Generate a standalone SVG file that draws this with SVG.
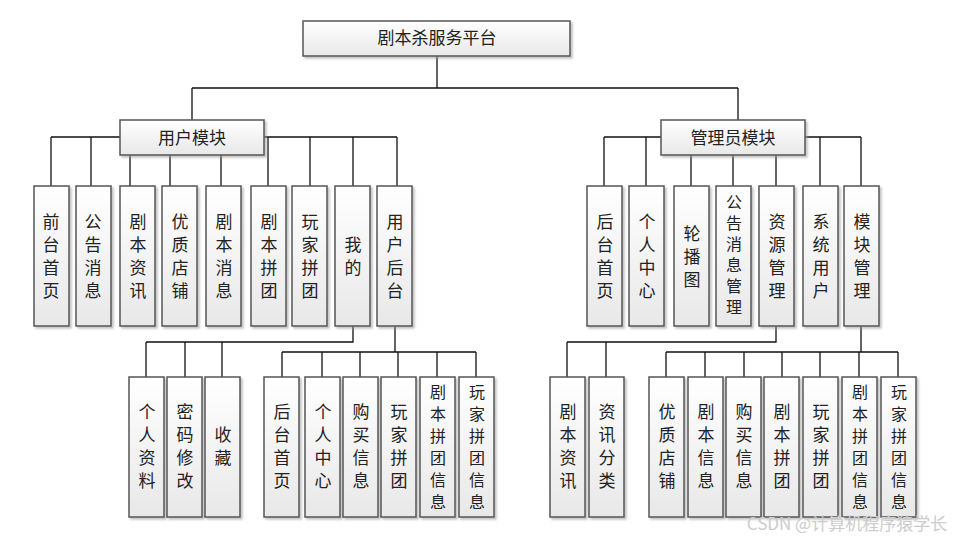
<svg xmlns="http://www.w3.org/2000/svg" width="963" height="541" viewBox="0 0 963 541">
<defs>
<linearGradient id="g" x1="0" y1="0" x2="0" y2="1"><stop offset="0" stop-color="#ffffff"/><stop offset="1" stop-color="#e8e8e8"/></linearGradient>
<filter id="sh" x="-20%" y="-20%" width="150%" height="150%"><feDropShadow dx="2" dy="2" stdDeviation="1" flood-color="#999" flood-opacity="0.6"/></filter>
<style>
rect{fill:url(#g);stroke:#555;stroke-width:1.5;filter:url(#sh)}
text{font-family:"Noto Sans CJK SC","Liberation Sans",sans-serif;font-size:17px;fill:#222;text-anchor:middle}
text.s{font-size:16px}
.c path{fill:none;stroke:#111;stroke-width:1.3}
</style>
</defs>
<rect width="963" height="541" style="fill:#fff;stroke:none;filter:none"/>
<g class="c">
<path d="M437 56V88M192 88H738M192 88V120M738 88V120"/>
<path d="M51 137H397M51 137V186M91 137V186M130 155V186M170 155V186M221 155V186M268 137V186M310 137V186M353 137V186M397 137V186"/>
<path d="M604 137H861M604 137V186M646 137V186M691 155V186M733 155V186M776 155V186M820 137V186M861 137V186"/>
<path d="M353 326V342H146M146 342V377M185 342V377M222 342V377"/>
<path d="M395 326V352M282 352H476M282 352V377M322 352V377M360 352V377M398 352V377M437 352V377M476 352V377"/>
<path d="M776 326V342H567M567 342V377M606 342V377"/>
<path d="M861 326V352M666 352H898M666 352V377M705 352V377M744 352V377M782 352V377M820 352V377M859 352V377M898 352V377"/>
</g>
<g id="root"><rect x="303" y="21" width="267" height="35"/><text x="437" y="44">剧本杀服务平台</text></g>
<g id="user"><rect x="120" y="120" width="144" height="35"/><text x="192" y="144">用户模块</text></g>
<g id="admin"><rect x="661" y="120" width="144" height="35"/><text x="733" y="144">管理员模块</text></g>

<g id="u1"><rect x="34" y="186" width="35" height="140"/><text><tspan x="51" y="228">前</tspan><tspan x="51" y="251">台</tspan><tspan x="51" y="274">首</tspan><tspan x="51" y="297">页</tspan></text></g>
<g id="u2"><rect x="76" y="186" width="35" height="140"/><text><tspan x="93" y="228">公</tspan><tspan x="93" y="251">告</tspan><tspan x="93" y="274">消</tspan><tspan x="93" y="297">息</tspan></text></g>
<g id="u3"><rect x="120" y="186" width="35" height="140"/><text><tspan x="138" y="228">剧</tspan><tspan x="138" y="251">本</tspan><tspan x="138" y="274">资</tspan><tspan x="138" y="297">讯</tspan></text></g>
<g id="u4"><rect x="162" y="186" width="35" height="140"/><text><tspan x="180" y="228">优</tspan><tspan x="180" y="251">质</tspan><tspan x="180" y="274">店</tspan><tspan x="180" y="297">铺</tspan></text></g>
<g id="u5"><rect x="206" y="186" width="35" height="140"/><text><tspan x="224" y="228">剧</tspan><tspan x="224" y="251">本</tspan><tspan x="224" y="274">消</tspan><tspan x="224" y="297">息</tspan></text></g>
<g id="u6"><rect x="251" y="186" width="35" height="140"/><text><tspan x="269" y="228">剧</tspan><tspan x="269" y="251">本</tspan><tspan x="269" y="274">拼</tspan><tspan x="269" y="297">团</tspan></text></g>
<g id="u7"><rect x="292" y="186" width="35" height="140"/><text><tspan x="310" y="228">玩</tspan><tspan x="310" y="251">家</tspan><tspan x="310" y="274">拼</tspan><tspan x="310" y="297">团</tspan></text></g>
<g id="u8"><rect x="335" y="186" width="35" height="140"/><text><tspan x="353" y="251">我</tspan><tspan x="353" y="274">的</tspan></text></g>
<g id="u9"><rect x="377" y="186" width="35" height="140"/><text><tspan x="395" y="228">用</tspan><tspan x="395" y="251">户</tspan><tspan x="395" y="274">后</tspan><tspan x="395" y="297">台</tspan></text></g>

<g id="a1"><rect x="587" y="186" width="35" height="140"/><text><tspan x="605" y="228">后</tspan><tspan x="605" y="251">台</tspan><tspan x="605" y="274">首</tspan><tspan x="605" y="297">页</tspan></text></g>
<g id="a2"><rect x="629" y="186" width="35" height="140"/><text><tspan x="647" y="228">个</tspan><tspan x="647" y="251">人</tspan><tspan x="647" y="274">中</tspan><tspan x="647" y="297">心</tspan></text></g>
<g id="a3"><rect x="674" y="186" width="35" height="140"/><text><tspan x="692" y="240">轮</tspan><tspan x="692" y="263">播</tspan><tspan x="692" y="286">图</tspan></text></g>
<g id="a4"><rect x="716" y="186" width="35" height="140"/><text class="s"><tspan x="734" y="208">公</tspan><tspan x="734" y="229">告</tspan><tspan x="734" y="250">消</tspan><tspan x="734" y="271">息</tspan><tspan x="734" y="292">管</tspan><tspan x="734" y="313">理</tspan></text></g>
<g id="a5"><rect x="759" y="186" width="35" height="140"/><text><tspan x="777" y="228">资</tspan><tspan x="777" y="251">源</tspan><tspan x="777" y="274">管</tspan><tspan x="777" y="297">理</tspan></text></g>
<g id="a6"><rect x="803" y="186" width="35" height="140"/><text><tspan x="821" y="228">系</tspan><tspan x="821" y="251">统</tspan><tspan x="821" y="274">用</tspan><tspan x="821" y="297">户</tspan></text></g>
<g id="a7"><rect x="844" y="186" width="35" height="140"/><text><tspan x="862" y="228">模</tspan><tspan x="862" y="251">块</tspan><tspan x="862" y="274">管</tspan><tspan x="862" y="297">理</tspan></text></g>

<g id="m1"><rect x="129" y="377" width="35" height="140"/><text><tspan x="147" y="418">个</tspan><tspan x="147" y="441">人</tspan><tspan x="147" y="464">资</tspan><tspan x="147" y="487">料</tspan></text></g>
<g id="m2"><rect x="167" y="377" width="35" height="140"/><text><tspan x="185" y="418">密</tspan><tspan x="185" y="441">码</tspan><tspan x="185" y="464">修</tspan><tspan x="185" y="487">改</tspan></text></g>
<g id="m3"><rect x="205" y="377" width="35" height="140"/><text><tspan x="223" y="441">收</tspan><tspan x="223" y="464">藏</tspan></text></g>

<g id="b1"><rect x="264" y="377" width="35" height="140"/><text><tspan x="282" y="418">后</tspan><tspan x="282" y="441">台</tspan><tspan x="282" y="464">首</tspan><tspan x="282" y="487">页</tspan></text></g>
<g id="b2"><rect x="305" y="377" width="35" height="140"/><text><tspan x="323" y="418">个</tspan><tspan x="323" y="441">人</tspan><tspan x="323" y="464">中</tspan><tspan x="323" y="487">心</tspan></text></g>
<g id="b3"><rect x="343" y="377" width="35" height="140"/><text><tspan x="361" y="418">购</tspan><tspan x="361" y="441">买</tspan><tspan x="361" y="464">信</tspan><tspan x="361" y="487">息</tspan></text></g>
<g id="b4"><rect x="381" y="377" width="35" height="140"/><text><tspan x="399" y="418">玩</tspan><tspan x="399" y="441">家</tspan><tspan x="399" y="464">拼</tspan><tspan x="399" y="487">团</tspan></text></g>
<g id="b5"><rect x="420" y="377" width="35" height="140"/><text class="s"><tspan x="438" y="398">剧</tspan><tspan x="438" y="420">本</tspan><tspan x="438" y="442">拼</tspan><tspan x="438" y="464">团</tspan><tspan x="438" y="486">信</tspan><tspan x="438" y="508">息</tspan></text></g>
<g id="b6"><rect x="459" y="377" width="35" height="140"/><text class="s"><tspan x="477" y="398">玩</tspan><tspan x="477" y="420">家</tspan><tspan x="477" y="442">拼</tspan><tspan x="477" y="464">团</tspan><tspan x="477" y="486">信</tspan><tspan x="477" y="508">息</tspan></text></g>

<g id="r1"><rect x="550" y="377" width="35" height="140"/><text><tspan x="568" y="418">剧</tspan><tspan x="568" y="441">本</tspan><tspan x="568" y="464">资</tspan><tspan x="568" y="487">讯</tspan></text></g>
<g id="r2"><rect x="589" y="377" width="35" height="140"/><text><tspan x="607" y="418">资</tspan><tspan x="607" y="441">讯</tspan><tspan x="607" y="464">分</tspan><tspan x="607" y="487">类</tspan></text></g>

<g id="k1"><rect x="649" y="377" width="35" height="140"/><text><tspan x="667" y="418">优</tspan><tspan x="667" y="441">质</tspan><tspan x="667" y="464">店</tspan><tspan x="667" y="487">铺</tspan></text></g>
<g id="k2"><rect x="688" y="377" width="35" height="140"/><text><tspan x="706" y="418">剧</tspan><tspan x="706" y="441">本</tspan><tspan x="706" y="464">信</tspan><tspan x="706" y="487">息</tspan></text></g>
<g id="k3"><rect x="726" y="377" width="35" height="140"/><text><tspan x="744" y="418">购</tspan><tspan x="744" y="441">买</tspan><tspan x="744" y="464">信</tspan><tspan x="744" y="487">息</tspan></text></g>
<g id="k4"><rect x="764" y="377" width="35" height="140"/><text><tspan x="782" y="418">剧</tspan><tspan x="782" y="441">本</tspan><tspan x="782" y="464">拼</tspan><tspan x="782" y="487">团</tspan></text></g>
<g id="k5"><rect x="803" y="377" width="35" height="140"/><text><tspan x="821" y="418">玩</tspan><tspan x="821" y="441">家</tspan><tspan x="821" y="464">拼</tspan><tspan x="821" y="487">团</tspan></text></g>
<g id="k6"><rect x="842" y="377" width="35" height="140"/><text class="s"><tspan x="860" y="398">剧</tspan><tspan x="860" y="420">本</tspan><tspan x="860" y="442">拼</tspan><tspan x="860" y="464">团</tspan><tspan x="860" y="486">信</tspan><tspan x="860" y="508">息</tspan></text></g>
<g id="k7"><rect x="881" y="377" width="35" height="140"/><text class="s"><tspan x="899" y="398">玩</tspan><tspan x="899" y="420">家</tspan><tspan x="899" y="442">拼</tspan><tspan x="899" y="464">团</tspan><tspan x="899" y="486">信</tspan><tspan x="899" y="508">息</tspan></text></g>
<text x="847" y="530" style="font-size:17px;fill:#ccc">CSDN @计算机程序猿学长</text>
</svg>
